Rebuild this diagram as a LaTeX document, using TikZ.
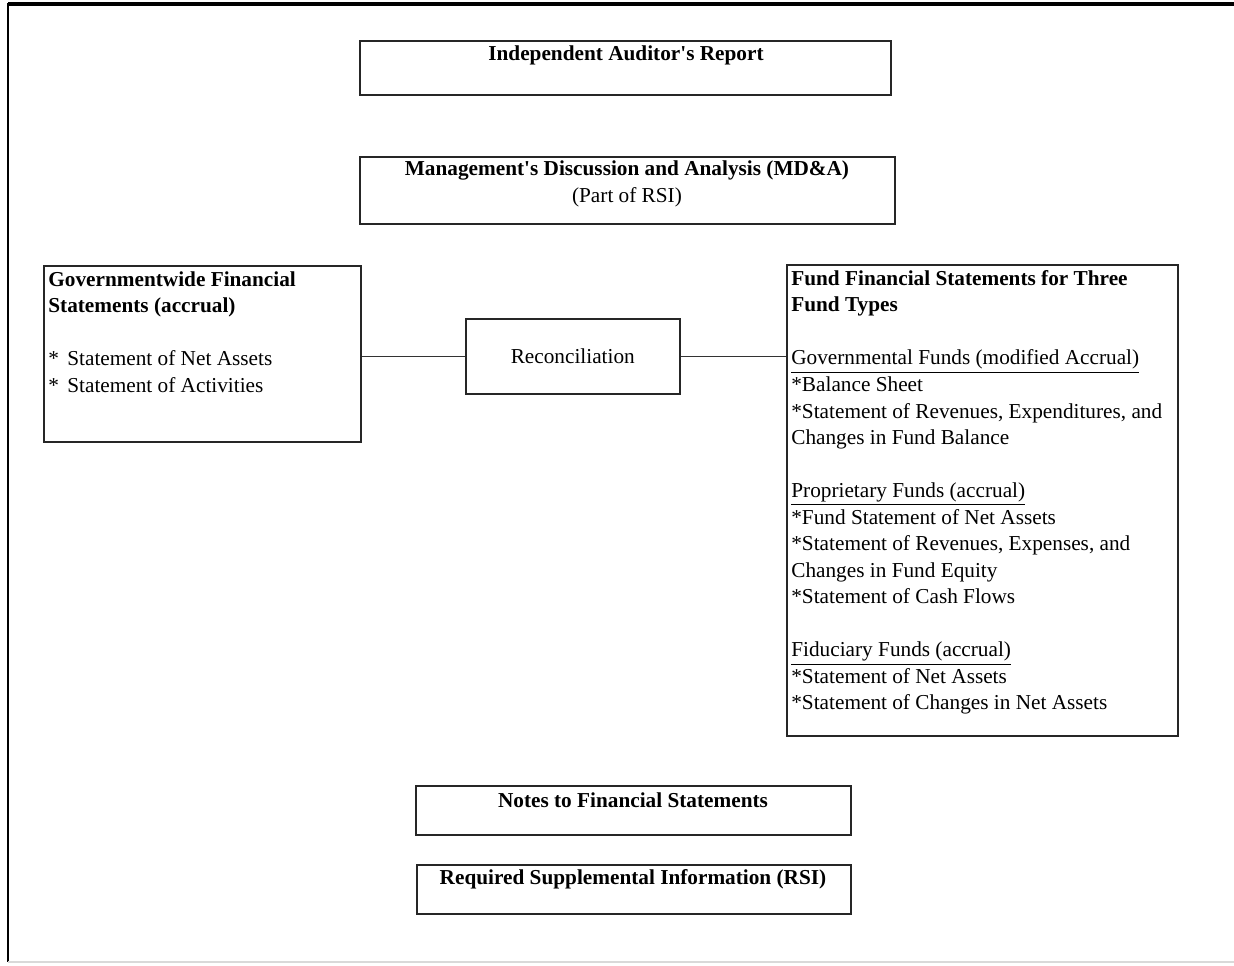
\documentclass[tikz,border=0pt]{standalone}
\usepackage{fontspec}
\setmainfont{Liberation Serif}
\usetikzlibrary{positioning}

\tikzset{
  box/.style={draw=black!85, line width=0.9pt, inner sep=0pt, anchor=north west},
  headtxt/.style={font=\fontsize{12.1}{15}\selectfont, align=center, inner sep=0pt},
  bodytxt/.style={font=\fontsize{12.1}{15.1}\selectfont, align=left, inner sep=0pt, anchor=north west},
  link/.style={draw=black!80, line width=0.8pt}
}
\newcommand{\stmark}{\makebox[0.38cm][l]{*}}
\newcommand{\apos}{\textquotesingle}

\begin{document}
\begin{tikzpicture}
			%%%%% FRAME %%%%%
			\useasboundingbox (0,0) rectangle (24.68,-19.3);
			\draw[line width=2.2pt] (0.16,-0.08) -- (24.68,-0.08);
			\draw[line width=1.6pt] (0.16,-0.06) -- (0.16,-19.24);
			\draw[line width=0.6pt, color=black!15] (0.16,-19.24) -- (24.68,-19.24);
			
			%%%%% TOP BOXES %%%%%
			\node[box, minimum width=10.62cm, minimum height=1.08cm] (audit) at (7.18,-0.8) {};
			\node[headtxt] (audittxt) at (12.52,-1.1) {\textbf{Independent Auditor\apos s Report}};
			
			\node[box, minimum width=10.7cm, minimum height=1.34cm] (mda) at (7.18,-3.12) {};
			\node[headtxt] (mdatxt) at (12.54,-3.68) {\textbf{Management\apos s Discussion and Analysis (MD\&A)}\\(Part of RSI)};
			
			%%%%% MIDDLE ROW %%%%%
			\node[box, minimum width=6.34cm, minimum height=3.52cm] (gov) at (0.86,-5.3) {};
			\node[bodytxt] (govtxt) at (0.96,-5.42) {\textbf{Governmentwide Financial}\\\textbf{Statements (accrual)}\\[15.1pt]
				\stmark Statement of Net Assets\\\stmark Statement of Activities};
			
			\node[box, minimum width=4.28cm, minimum height=1.5cm, font=\fontsize{12.1}{15}\selectfont] (recon) at (9.3,-6.36) {Reconciliation};
			
			\node[box, minimum width=7.82cm, minimum height=9.42cm] (fund) at (15.72,-5.28) {};
			\node[bodytxt] (fundtxt) at (15.82,-5.4) {\textbf{Fund Financial Statements for Three}\\\textbf{Fund Types}\\[15.1pt]
				\underline{Governmental Funds (modified Accrual)}\\*Balance Sheet\\*Statement of Revenues, Expenditures, and\\Changes in Fund Balance\\[15.1pt]
				\underline{Proprietary Funds (accrual)}\\*Fund Statement of Net Assets\\*Statement of Revenues, Expenses, and\\Changes in Fund Equity\\*Statement of Cash Flows\\[15.1pt]
				\underline{Fiduciary Funds (accrual)}\\*Statement of Net Assets\\*Statement of Changes in Net Assets};
			
			\draw[link] (recon.west -| gov.east) -- (recon.west);
			\draw[link] (recon.east) -- (recon.east -| fund.west);
			
			%%%%% BOTTOM BOXES %%%%%
			\node[box, minimum width=8.7cm, minimum height=0.98cm] (notes) at (8.3,-15.7) {};
			\node[headtxt] (notestxt) at (12.66,-16) {\textbf{Notes to Financial Statements}};
			
			\node[box, minimum width=8.68cm, minimum height=0.98cm] (rsi) at (8.32,-17.28) {};
			\node[headtxt] (rsitxt) at (12.66,-17.58) {\textbf{Required Supplemental Information (RSI)}};
			
			%%%%% END %%%%%
\end{tikzpicture}
\end{document}
